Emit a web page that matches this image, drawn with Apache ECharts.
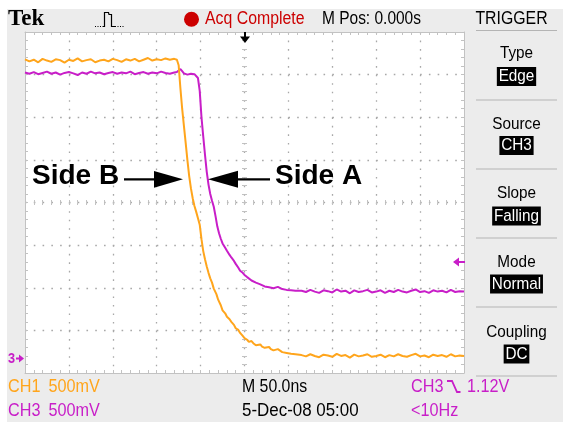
<!DOCTYPE html>
<html>
<head>
<meta charset="utf-8">
<script src="https://cdn.jsdelivr.net/npm/echarts@6/dist/echarts.min.js"></script>
<style>
html,body{margin:0;padding:0;background:#fff;}
#c{width:563px;height:422px;background:#ececec;box-shadow:inset 7px 9px 0 #fff;}
</style>
</head>
<body>
<div id="c"></div>
<script>
// Time in ns (50 ns/div), level in screen divisions from centre (500 mV/div)
const ch1Points = [ // Side B (orange)
[-250,3.36],[-245,3.31],[-240,3.35],[-235,3.29],[-230,3.37],[-225,3.33],[-220,3.30],[-215,3.36],[-210,3.34],[-205,3.28],
[-200,3.35],[-195,3.32],[-190,3.38],[-185,3.31],[-180,3.34],[-175,3.36],[-170,3.29],[-165,3.33],[-160,3.35],[-155,3.31],
[-150,3.37],[-145,3.34],[-140,3.30],[-135,3.36],[-130,3.33],[-125,3.37],[-120,3.31],[-115,3.35],[-110,3.39],[-105,3.33],
[-100,3.36],[-95,3.34],[-90,3.38],[-85,3.35],[-80,3.37],
[-77,3.35],[-75,3.22],[-73,2.68],[-71,2.20],[-69,1.80],[-67,1.40],[-65,0.99],[-63,0.62],[-61,0.33],[-59,0.10],
[-57,-0.08],[-55,-0.22],[-53,-0.37],[-51,-0.52],[-49,-0.86],[-47,-1.14],[-45,-1.33],[-43,-1.50],[-41,-1.65],[-39,-1.78],
[-37,-1.88],[-35,-2.02],[-32,-2.15],[-30,-2.28],[-27,-2.41],[-25,-2.53],[-22,-2.60],[-20,-2.68],[-17,-2.74],[-15,-2.80],
[-12,-2.87],[-10,-2.95],[-7,-2.99],[-5,-3.06],[-2,-3.13],[0,-3.18],[3,-3.22],[5,-3.27],[8,-3.25],[10,-3.30],
[13,-3.35],[15,-3.36],[18,-3.33],[20,-3.38],[23,-3.41],[25,-3.42],[28,-3.39],[30,-3.44],[33,-3.47],[35,-3.46],
[38,-3.44],[40,-3.48],[43,-3.51],[45,-3.49],[48,-3.53],[50,-3.52],[53,-3.55],[55,-3.52],[58,-3.56],[60,-3.55],
[65,-3.58],[70,-3.61],[75,-3.56],[80,-3.60],[85,-3.63],[90,-3.57],[95,-3.59],[100,-3.62],[105,-3.55],[110,-3.60],
[115,-3.58],[120,-3.64],[125,-3.57],[130,-3.61],[135,-3.59],[140,-3.56],[145,-3.62],[150,-3.60],[155,-3.57],[160,-3.63],
[165,-3.58],[170,-3.61],[175,-3.56],[180,-3.60],[185,-3.62],[190,-3.58],[195,-3.55],[200,-3.61],[205,-3.59],[210,-3.63],
[215,-3.57],[220,-3.60],[225,-3.58],[230,-3.62],[235,-3.56],[240,-3.61],[245,-3.59],[250,-3.60]
];
const ch3Points = [ // Side A (magenta)
[-250,3.05],[-245,3.02],[-240,3.06],[-235,3.01],[-230,3.04],[-225,3.07],[-220,3.02],[-215,3.05],[-210,3.00],[-205,3.04],
[-200,3.06],[-195,3.03],[-190,2.99],[-185,3.05],[-180,3.02],[-175,3.07],[-170,3.03],[-165,3.05],[-160,3.01],[-155,3.04],
[-150,3.06],[-145,3.02],[-140,3.05],[-135,3.03],[-130,3.07],[-125,3.01],[-120,3.04],[-115,3.06],[-110,3.02],[-105,3.05],
[-100,3.03],[-95,3.07],[-90,3.04],[-85,3.02],[-80,3.05],
[-77,3.06],[-75,3.10],[-73,3.13],[-71,3.08],[-69,3.03],[-67,3.05],[-65,3.00],[-63,3.04],[-61,3.02],[-59,3.06],
[-57,3.01],[-55,3.03],[-53,2.92],[-51,2.62],[-49,2.00],[-47,1.55],[-45,1.12],[-43,0.72],[-41,0.42],[-39,0.20],
[-37,0.04],[-35,-0.10],[-33,-0.32],[-31,-0.56],[-29,-0.72],[-27,-0.85],[-25,-0.96],[-22,-1.06],[-20,-1.13],[-17,-1.23],
[-15,-1.29],[-12,-1.37],[-10,-1.44],[-7,-1.53],[-5,-1.60],[-2,-1.65],[0,-1.70],[3,-1.75],[5,-1.78],[8,-1.83],
[10,-1.84],[13,-1.88],[15,-1.89],[18,-1.92],[20,-1.93],[23,-1.97],[25,-1.95],[28,-1.99],[30,-1.97],[33,-2.01],
[35,-2.00],[38,-1.98],[40,-2.01],[43,-2.03],[45,-2.02],[48,-2.05],[50,-2.03],[53,-2.06],[55,-2.04],[58,-2.07],[60,-2.05],
[65,-2.07],[70,-2.10],[75,-2.05],[80,-2.09],[85,-2.12],[90,-2.06],[95,-2.08],[100,-2.11],[105,-2.04],[110,-2.09],
[115,-2.07],[120,-2.13],[125,-2.06],[130,-2.10],[135,-2.08],[140,-2.05],[145,-2.11],[150,-2.09],[155,-2.06],[160,-2.12],
[165,-2.07],[170,-2.10],[175,-2.05],[180,-2.09],[185,-2.11],[190,-2.07],[195,-2.04],[200,-2.10],[205,-2.08],[210,-2.12],
[215,-2.06],[220,-2.09],[225,-2.07],[230,-2.11],[235,-2.05],[240,-2.10],[245,-2.08],[250,-2.09]
];
const timeRange = [-250, 250];   // ns, 50 ns per division
const timeStep = 50;
const levelRange = [-4, 4];      // divisions
const levelStep = 1;
const menuTitles = ['Type', 'Source', 'Slope', 'Mode', 'Coupling'];
const menuValues = ['Edge', 'CH3', 'Falling', 'Normal', 'DC'];
const channelScales = ['500mV', '500mV'];
const channelNames = ['CH1', 'CH3'];

const ORANGE = '#FFA51C';
const MAGENTA = '#C81EC8';
const TICK = '#c2c2c2';
const DOT = '#a8a8a8';
const SANS = '"Liberation Sans", Arial, sans-serif';

function txt(x, y, text, size, color, o) {
  o = o || {};
  const st = {
    text: text, fill: color,
    font: (o.weight || 'normal') + ' ' + size + 'px ' + (o.family || SANS),
    textAlign: o.align || 'left', align: o.align || 'left',
    textVerticalAlign: 'middle', verticalAlign: 'middle'
  };
  if (o.bg) { st.backgroundColor = o.bg; st.padding = o.pad || [1, 2]; st.lineHeight = size; }
  return { type: 'text', x: x, y: y, scaleX: o.sx == null ? 0.88 : o.sx, z: 100, style: st };
}
function seg(x1, y1, x2, y2, color, w) {
  return { type: 'line', z: 100, shape: { x1: x1, y1: y1, x2: x2, y2: y2 }, style: { stroke: color, lineWidth: w || 1 } };
}
function poly(points, color) {
  return { type: 'polygon', z: 100, shape: { points: points }, style: { fill: color } };
}

const graphics = [];
// header
graphics.push(txt(8, 19.5, 'Tek', 23, '#000', { weight: 'bold', family: '"Liberation Serif", "Times New Roman", serif', sx: 1 }));
graphics.push({ type: 'polyline', z: 100, shape: { points: [[95, 26.5], [103, 26.5]] }, style: { stroke: '#000', lineWidth: 1, lineDash: [1, 1.5], fill: null } });
graphics.push({ type: 'polyline', z: 100, shape: { points: [[103, 26.5], [104.5, 26.5], [104.5, 12.5], [108.5, 12.5], [109, 14.5], [111.5, 14.5], [111.5, 26.5], [115, 26.5]] }, style: { stroke: '#000', lineWidth: 1.2, fill: null } });
graphics.push({ type: 'polyline', z: 100, shape: { points: [[115, 26.5], [125, 26.5]] }, style: { stroke: '#000', lineWidth: 1, lineDash: [1, 1.5], fill: null } });
graphics.push({ type: 'circle', z: 100, shape: { cx: 191.5, cy: 19.3, r: 7.5 }, style: { fill: '#cc0000' } });
graphics.push(txt(205, 18.8, 'Acq Complete', 18, '#cc0000'));
graphics.push(txt(322, 18.8, 'M Pos: 0.000s', 18, '#000', { sx: 0.86 }));
graphics.push(txt(511.5, 18.8, 'TRIGGER', 18, '#000', { align: 'center' }));
// trigger menu
const sepY = [30.5, 100, 169, 238, 307, 376];
sepY.forEach(function (y) { graphics.push(seg(476, y, 557, y, '#b4b4b4', 1.2)); });
const titleY = [53.3, 124.3, 193.3, 262.3, 332];
const valueY = [76.4, 145.5, 216, 284, 354];
menuTitles.forEach(function (t, i) {
  graphics.push(txt(516.5, titleY[i], t, 17, '#000', { align: 'center', sx: 0.9 }));
  graphics.push(txt(516.5, valueY[i], menuValues[i], 17, '#fff', { align: 'center', sx: 0.9, bg: '#000', pad: [1, 2] }));
});
// bottom readouts
const chColors = [ORANGE, MAGENTA];
const rowY = [387.5, 411.5];
channelNames.forEach(function (n, i) {
  graphics.push(txt(8, rowY[i], n, 18, chColors[i], { sx: 0.9 }));
  graphics.push(txt(48.5, rowY[i], channelScales[i], 18, chColors[i], { sx: 0.9 }));
});
graphics.push(txt(242, rowY[0], 'M 50.0ns', 18, '#000', { sx: 0.88 }));
graphics.push(txt(242, rowY[1], '5-Dec-08 05:00', 18, '#000', { sx: 0.94 }));
graphics.push(txt(411, rowY[0], 'CH3', 18, MAGENTA, { sx: 0.9 }));
graphics.push({ type: 'polyline', z: 100, shape: { points: [[447, 381], [452, 381], [457, 392], [460.5, 392]] }, style: { stroke: MAGENTA, lineWidth: 1.8, fill: null } });
graphics.push(txt(467, rowY[0], '1.12V', 18, MAGENTA, { sx: 0.9 }));
graphics.push(txt(411, rowY[1], '<10Hz', 18, MAGENTA, { sx: 0.9 }));
// markers on the graticule
graphics.push(seg(245, 32, 245, 38, '#000', 2));
graphics.push(poly([[240, 36.5], [250, 36.5], [245, 43]], '#000'));
graphics.push(poly([[453, 262], [459, 257.5], [459, 266.5]], MAGENTA));
graphics.push(seg(458, 262, 465, 262, MAGENTA, 2));
graphics.push(txt(8, 359, '3', 15, MAGENTA, { weight: 'bold', sx: 0.85 }));
graphics.push(seg(16, 358.5, 20, 358.5, MAGENTA, 2));
graphics.push(poly([[19, 354.5], [24, 358.5], [19, 362.5]], MAGENTA));
// annotations
graphics.push(txt(32, 176.7, 'Side B', 28, '#000', { weight: 'bold', sx: 1 }));
graphics.push(seg(124, 179.3, 157, 179.3, '#000', 2.2));
graphics.push(poly([[154, 171], [183, 179.3], [154, 187.7]], '#000'));
graphics.push(txt(275, 176.7, 'Side A', 28, '#000', { weight: 'bold', sx: 1 }));
graphics.push(poly([[208, 179.3], [238, 170.7], [238, 187.7]], '#000'));
graphics.push(seg(236, 179.3, 270, 179.3, '#000', 2.2));

function axisBase(extent, step) {
  return {
    type: 'value', min: extent[0], max: extent[1], interval: step,
    axisLabel: { show: false }, splitLine: { show: false }, minorSplitLine: { show: false },
    splitArea: { show: false }
  };
}
function borderAxis(extent, step, pos, dotDash) {
  const a = axisBase(extent, step);
  a.position = pos;
  a.axisLine = { show: true, onZero: false, lineStyle: { color: TICK, width: 1 } };
  a.axisTick = { show: true, inside: true, length: 3, lineStyle: { color: TICK, width: 1 } };
  a.minorTick = { show: true, splitNumber: 5, length: 3, lineStyle: { color: TICK, width: 1 } };
  if (dotDash) a.splitLine = { show: true, showMinLine: false, showMaxLine: false, lineStyle: { color: DOT, width: 1.3, type: dotDash } };
  return a;
}
function centreAxis(extent, step, pos, inside) {
  const a = axisBase(extent, step);
  a.position = pos;
  a.axisLine = { show: false, onZero: true };
  a.axisTick = { show: true, inside: inside, length: 2.5, lineStyle: { color: TICK, width: 1 } };
  a.minorTick = { show: true, splitNumber: 5, length: 2.5, lineStyle: { color: TICK, width: 1 } };
  return a;
}

const chart = echarts.init(document.getElementById('c'), null, { renderer: 'canvas' });
chart.setOption({
  backgroundColor: 'transparent',
  animation: false,
  grid: { left: 25, top: 32, width: 439, height: 341, show: true, backgroundColor: '#ffffff', borderWidth: 0, containLabel: false, outerBoundsMode: 'none' },
  xAxis: [
    borderAxis(timeRange, timeStep, 'bottom', [1.6, 6.93]),
    borderAxis(timeRange, timeStep, 'top', null),
    centreAxis(timeRange, timeStep, 'bottom', true),
    centreAxis(timeRange, timeStep, 'bottom', false)
  ],
  yAxis: [
    borderAxis(levelRange, levelStep, 'left', [1.6, 7.18]),
    borderAxis(levelRange, levelStep, 'right', null),
    centreAxis(levelRange, levelStep, 'left', true),
    centreAxis(levelRange, levelStep, 'left', false)
  ],
  series: [
    { type: 'line', name: 'CH3 Side A', data: ch3Points, xAxisIndex: 0, yAxisIndex: 0, showSymbol: false, symbol: 'none', clip: true,
      lineStyle: { color: MAGENTA, width: 2 }, itemStyle: { color: MAGENTA }, z: 5 },
    { type: 'line', name: 'CH1 Side B', data: ch1Points, xAxisIndex: 0, yAxisIndex: 0, showSymbol: false, symbol: 'none', clip: true,
      lineStyle: { color: ORANGE, width: 2 }, itemStyle: { color: ORANGE }, z: 6 }
  ],
  graphic: { elements: graphics }
});
</script>
</body>
</html>
